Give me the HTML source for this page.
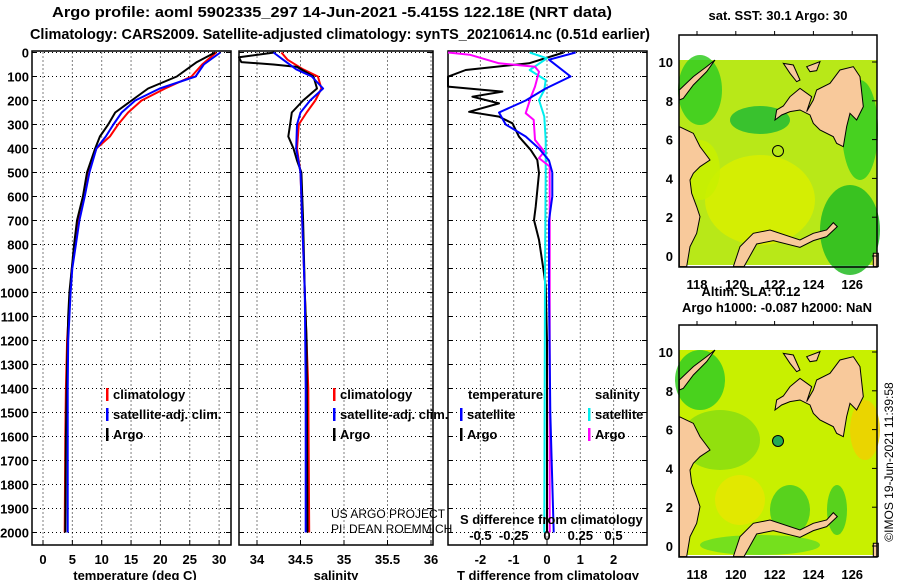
<!DOCTYPE html>
<html><head><meta charset="utf-8"><style>
body{margin:0;background:#fff;}
svg{display:block;font-family:"Liberation Sans",sans-serif;}
.b{font-weight:bold;font-size:13px;}
.t{font-weight:bold;font-size:15px;}
</style></head><body>
<svg id="c" width="900" height="580" viewBox="0 0 900 580" xmlns="http://www.w3.org/2000/svg">
<text class="t" x="52" y="17" textLength="560" lengthAdjust="spacingAndGlyphs">Argo profile: aoml 5902335_297 14-Jun-2021 -5.415S 122.18E (NRT data)</text>
<text class="t" x="30" y="39" textLength="620" lengthAdjust="spacingAndGlyphs">Climatology: CARS2009. Satellite-adjusted climatology: synTS_20210614.nc (0.51d earlier)</text>
<g id="plots"></g>
<g id="maps"></g>
<text x="0" y="0" transform="translate(893,462) rotate(-90)" text-anchor="middle" style="font-size:12px">©IMOS 19-Jun-2021 11:39:58</text>
</svg>
<script>
const depthTicks=[0,100,200,300,400,500,600,700,800,900,1000,1100,1200,1300,1400,1500,1600,1700,1800,1900,2000];
const tempTicks=[0,5,10,15,20,25,30];
const salTicks=[34,34.5,35,35.5,36];
const dTTicks=[-2,-1,0,1,2];
const dSTickLabels=["-0.5","-0.25","0","0.25","0.5"];
const dSTicks=[-0.5,-0.25,0,0.25,0.5];

const tArgoDepth=[0,40,100,150,200,250,300,350,400,500,600,700,800,900,1000,1100,1300,1600,2000];
const tArgo=[29.3,26.2,22.8,17.9,15.1,12.3,11.1,9.7,8.9,7.5,6.8,5.8,5.3,4.9,4.5,4.3,4.1,3.9,3.8];
const tClimDepth=[0,50,100,150,200,250,300,350,400,500,600,700,800,900,1000,1200,1400,1600,2000];
const tClim=[29.5,27.1,25.3,20.8,16.8,14.5,12.8,11.4,9.1,7.7,7.0,6.1,5.5,4.9,4.6,4.1,3.9,3.8,3.7];
const tSat=[30.2,27.4,26.0,19.9,15.7,13.4,12.0,10.7,9.1,7.9,7.1,6.2,5.6,5.0,4.7,4.3,4.2,4.2,4.2];

const sArgoDepth=[0,20,40,50,60,100,150,200,250,300,350,400,450,500,700,1000,1200,2000];
const sArgo=[34.2,33.79,33.82,34.19,34.46,34.65,34.69,34.53,34.4,34.38,34.36,34.42,34.46,34.51,34.53,34.55,34.57,34.58];
const sClimDepth=[0,30,70,100,150,200,250,300,400,500,700,1000,1400,2000];
const sClim=[34.28,34.35,34.53,34.7,34.74,34.67,34.57,34.48,34.46,34.5,34.52,34.55,34.59,34.6];
const sSat=[34.19,34.3,34.45,34.63,34.76,34.61,34.5,34.46,34.45,34.5,34.52,34.55,34.56,34.56];

const dTSatDepth=[0,30,100,150,200,250,300,350,400,450,500,600,700,1000,1500,1750,2000];
const dTSat=[0.86,0.06,0.71,-0.04,-0.64,-1.44,-1.24,-0.64,-0.24,0.06,0.16,0.16,0.06,0.06,0.1,0.15,0.2];
const dTArgoDepth=[0,45,73,101,142,163,184,212,247,267,295,351,406,448,503,642,698,781,920,976,1200,2000];
const dTArgo=[0.5,-0.54,-2.44,-3.0,-3.0,-1.34,-2.24,-1.44,-2.34,-1.44,-1.04,-0.84,-0.49,-0.29,-0.24,-0.34,-0.39,-0.24,-0.09,-0.04,0.0,0.0];
const dSArgoDepth=[0,9,45,59,80,142,184,253,281,364,413,440,475,2000];
const dSArgo=[-0.75,-0.58,-0.36,-0.09,-0.06,-0.09,-0.12,-0.16,-0.1,-0.09,-0.02,-0.06,0.02,0.02];
const dSSatDepth=[0,24,73,115,156,198,267,365,503,920,2000];
const dSSat=[-0.13,0.0,-0.13,-0.01,-0.02,-0.06,-0.02,-0.01,-0.01,-0.015,-0.02];

const NS="http://www.w3.org/2000/svg";
const plots=document.getElementById('plots');
function el(tag,attrs,parent,text){const e=document.createElementNS(NS,tag);for(const k in attrs)e.setAttribute(k,attrs[k]);if(text!==undefined)e.textContent=text;(parent||plots).appendChild(e);return e;}
const Y0=52.5,Y1=545,yD=d=>Y0+d*0.24;
const xT=v=>43+v*5.87, xS=v=>257+(v-34)*87, xDT=v=>547+v*33.3, xDS=v=>547+v*133.2;
const panels=[{x0:32,x1:231,sc:xT,ticks:tempTicks,lab:"temperature (deg C)",lx:135,n:'temperature'},
 {x0:239,x1:433,sc:xS,ticks:salTicks,lab:"salinity",lx:336,n:'salinity'},
 {x0:448,x1:647,sc:xDT,ticks:dTTicks,lab:"T difference from climatology",lx:548,n:'t-difference'}];
panels.forEach(p=>{
 const g=el('g',{});
 
 
 depthTicks.forEach(d=>{const l=el('line',{x1:p.x0,x2:p.x1,y1:yD(d),y2:yD(d),stroke:'#000','stroke-dasharray':'1 3'},g);
  
  el('line',{x1:p.x0,x2:p.x0+5,y1:yD(d),y2:yD(d),stroke:'#000'},g);el('line',{x1:p.x1-5,x2:p.x1,y1:yD(d),y2:yD(d),stroke:'#000'},g);});
 p.ticks.forEach(t=>{const x=p.sc(t);const l=el('line',{x1:x,x2:x,y1:Y0,y2:Y1,stroke:'#000','stroke-dasharray':'1 3'},g);
  
  el('line',{x1:x,x2:x,y1:Y1-5,y2:Y1,stroke:'#000'},g);
  const tx=el('text',{x:x,y:564,'text-anchor':'middle',class:'b'},g,String(t));
  });
 const r=el('rect',{x:p.x0,y:Y0-1.5,width:p.x1-p.x0,height:Y1-Y0+1.5,fill:'none',stroke:'#000','stroke-width':1.5},g);
 
 const at=el('text',{x:p.lx,y:580,'text-anchor':'middle',class:'b'},g,p.lab);
 
});
depthTicks.forEach(d=>{const t=el('text',{x:29,y:yD(d)+5,'text-anchor':'end',class:'b'},plots,String(d));
 });
dSTicks.forEach((v,i)=>{const t=el('text',{x:xDS(v),y:540,'text-anchor':'middle',class:'b'},plots,dSTickLabels[i]);
 });
function line(depths,vals,sc,color,name,xmin,xmax){
 const pts=depths.map((d,i)=>Math.max(xmin,Math.min(xmax,sc(vals[i]))).toFixed(1)+','+yD(d).toFixed(1)).join(' ');
 const pl=el('polyline',{points:pts,fill:'none',stroke:color,'stroke-width':2,'stroke-linejoin':'round'});
 
 }
line(tClimDepth,tClim,xT,'#f00','temp-climatology-line',32,231);
line(tArgoDepth,tArgo,xT,'#000','temp-argo-line',32,231);
line(tClimDepth,tSat,xT,'#00f','temp-satellite-line',32,231);
line(sClimDepth,sClim,xS,'#f00','sal-climatology-line',239,433);
line(sArgoDepth,sArgo,xS,'#000','sal-argo-line',239,433);
line(sClimDepth,sSat,xS,'#00f','sal-satellite-line',239,433);
line(dTArgoDepth,dTArgo,xDT,'#000','tdiff-argo-line',448,647);
line(dSSatDepth,dSSat,xDS,'#0ee','sdiff-satellite-line',448,647);
line(dSArgoDepth,dSArgo,xDS,'#f0f','sdiff-argo-line',448,647);
line(dTSatDepth,dTSat,xDT,'#00f','tdiff-satellite-line',448,647);
function leg(x,y,c,txt){const g=el('g',{});
 el('rect',{x:x,y:y-11,width:2.5,height:13,fill:c},g);el('text',{x:x+7,y:y,class:'b'},g,txt);}
leg(106,399,'#f00','climatology');leg(106,419,'#00f','satellite-adj. clim.');leg(106,439,'#000','Argo');
leg(333,399,'#f00','climatology');leg(333,419,'#00f','satellite-adj. clim.');leg(333,439,'#000','Argo');
el('text',{x:468,y:399,class:'b'},plots,'temperature');el('text',{x:595,y:399,class:'b'},plots,'salinity');
leg(460,419,'#00f','satellite');leg(460,439,'#000','Argo');leg(588,419,'#0ee','satellite');leg(588,439,'#f0f','Argo');
el('text',{x:460,y:524,class:'b'},plots,'S difference from climatology');
el('text',{x:331,y:518,style:'font-size:12px'},plots,'US ARGO PROJECT');
el('text',{x:331,y:533,style:'font-size:12px'},plots,'PI: DEAN ROEMMICH');

// maps
const maps=document.getElementById('maps');
const land=[
"58,380 100,400 120,440 150,480 120,500 100,520 90,540 95,580 110,620 120,650 110,700 90,740 80,800 58,800",
"58,270 100,230 140,200 165,180 140,215 100,255 70,295 58,300",
"440,335 460,300 470,270 510,250 540,210 580,200 600,230 610,320 590,360 570,340 560,380 550,440 530,430 520,410 480,390 460,370 450,345 420,330 390,335 365,345 345,360 350,330 370,318 390,290 420,265 455,290",
"370,190 400,195 420,240 410,245 390,220",
"440,200 480,185 470,212 450,215",
"220,800 240,740 280,700 330,690 420,720 460,700 500,690 520,668 532,680 500,710 460,722 420,742 340,722 290,732 252,800",
"640,760 655,760 655,800 640,800"];
function drawMap(oy,name,base,patches){
 const g=el('g',{},maps);
 el('rect',{x:679,y:35+oy,width:198,height:232,fill:'#fff'},g);
 el('rect',{x:679,y:60+oy,width:198,height:205,fill:base},g);
 patches.forEach(p=>el('ellipse',{cx:p[0],cy:p[1]+oy,rx:p[2],ry:p[3],fill:p[4],opacity:0.85},g));
 const lg=el('g',{transform:`translate(660,${oy}) scale(0.3333)`},g);
 land.forEach(s=>el('polygon',{points:s,fill:'#f8c99b',stroke:'#000','stroke-width':3},lg));
 el('rect',{x:679,y:35+oy,width:198,height:232,fill:'none',stroke:'#000','stroke-width':1.5},g);
 [0,2,4,6,8,10].forEach(l=>{const y=256+oy-l*19.4;el('text',{x:673,y:y+5,'text-anchor':'end',class:'b'},g,String(l));
  el('line',{x1:877,x2:872,y1:y,y2:y,stroke:'#000'},g);});
 [118,120,122,124,126].forEach(l=>{const x=697+(l-118)*19.4;el('text',{x:x,y:289+oy,'text-anchor':'middle',class:'b'},g,String(l));
  el('line',{x1:x,x2:x,y1:35+oy,y2:31+oy,stroke:'#000'},g);});
 el('circle',{cx:778,cy:151+oy,r:5.5,fill:oy?'#22aa55':'none',stroke:'#000','stroke-width':1},g);
}
drawMap(0,'sst-map','#b8e818',[[700,90,22,35,'#33cc22'],[850,230,30,45,'#22bb22'],[860,130,18,50,'#33cc22'],[760,120,30,14,'#22bb33'],[760,200,55,45,'#d8ee00'],[700,170,20,30,'#c8f000']]);
drawMap(290,'sla-map','#c8f000',[[700,90,25,30,'#33cc22'],[720,150,40,30,'#88dd11'],[790,220,20,25,'#44cc22'],[740,210,25,25,'#e6e600'],[865,140,15,30,'#f0d000'],[837,220,10,25,'#44cc22'],[760,255,60,10,'#66dd22']]);
el('text',{x:778,y:20,'text-anchor':'middle',class:'b'},maps,'sat. SST: 30.1 Argo: 30');
el('text',{x:751,y:296,'text-anchor':'middle',class:'b'},maps,'Altim. SLA: 0.12');
el('text',{x:777,y:312,'text-anchor':'middle',class:'b'},maps,'Argo h1000: -0.087 h2000: NaN');
</script>
</body></html>
